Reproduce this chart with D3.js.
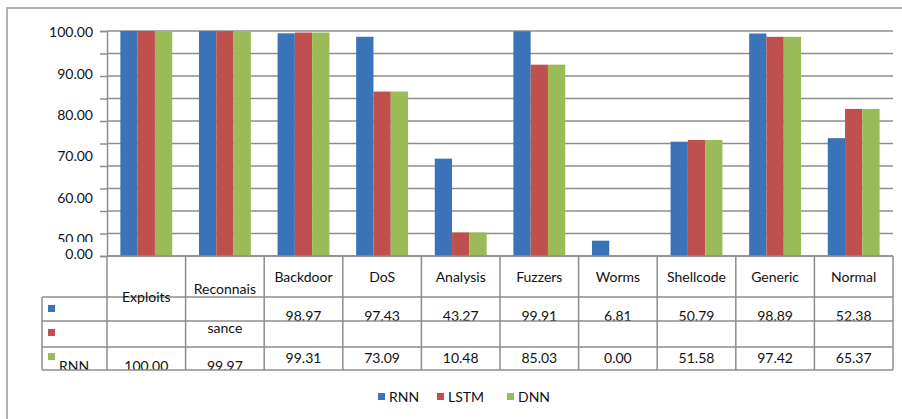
<!DOCTYPE html>
<html>
<head>
<meta charset="utf-8">
<script src="https://cdn.jsdelivr.net/npm/d3@7"></script>
<style>
  html, body { margin: 0; padding: 0; background: #fff; }
  svg { display: block; font-family: Lato, "Open Sans", sans-serif; }
</style>
</head>
<body>
<svg id="chart" width="902" height="419"></svg>
<script>
// ---- data ----
const categories = ["Exploits", "Reconnaissance", "Backdoor", "DoS", "Analysis", "Fuzzers", "Worms", "Shellcode", "Generic", "Normal"];
const seriesNames = ["RNN", "LSTM", "DNN"];
const rnn  = [100.00, 99.97, 98.97, 97.43, 43.27, 99.91, 6.81, 50.79, 98.89, 52.38];
const lstm = [100.00, 99.97, 99.31, 73.09, 10.48, 85.03, 0.00, 51.58, 97.42, 65.37];
const dnn  = [100.00, 99.97, 99.31, 73.09, 10.48, 85.03, 0.00, 51.58, 97.42, 65.37];
const gridValues = [0, 10, 20, 30, 40, 50, 60, 70, 80, 90, 100];
const axisLabels = [100, 90, 80, 70, 60, 50];
const zeroLabel = 0;

const colors = ["#3b73b9", "#c0504d", "#9bbb59"];
const lineColor = "#8e8e8e";

const svg = d3.select("#chart");
const plotLeft = 107, plotRight = 893, plotTop = 31, plotBase = 256;

const x = d3.scaleBand().domain(categories).range([plotLeft, plotRight]).paddingInner(0.34).paddingOuter(0.17);
const xs = d3.scaleBand().domain(seriesNames).range([0, x.bandwidth()]);
const y = d3.scaleLinear().domain([0, 100]).range([plotBase, plotTop]);
// misaligned label scale as in the reference picture
const yLab = d3.scaleLinear().domain([50, 100]).range([y(7.6), y(99.4)]);

const step = x.step();
const colEdge = i => plotLeft + i * step;

// clip paths
const defs = svg.append("defs");
defs.append("clipPath").attr("id", "clip50").append("rect").attr("x", 0).attr("y", 0).attr("width", 106).attr("height", 242);
defs.append("clipPath").attr("id", "clipRow1").append("rect").attr("x", 0).attr("y", 297).attr("width", 902).attr("height", 23.5);
defs.append("clipPath").attr("id", "clipRow3").append("rect").attr("x", 0).attr("y", 347).attr("width", 902).attr("height", 22.5);

// outer frame
svg.append("path").attr("d", "M7,419V8H902").attr("fill", "none").attr("stroke", "#9a9a9a").attr("stroke-width", 1.5);

// gridlines
svg.append("g").selectAll("line").data(gridValues).join("line")
  .attr("x1", plotLeft).attr("x2", plotRight)
  .attr("y1", d => y(d)).attr("y2", d => y(d))
  .attr("stroke", lineColor).attr("stroke-width", 1.5);

// bars
const seriesData = [rnn, lstm, dnn];
seriesData.forEach((vals, si) => {
  svg.append("g").selectAll("rect").data(vals).join("rect")
    .attr("x", (d, i) => x(categories[i]) + xs(seriesNames[si]))
    .attr("width", xs.bandwidth())
    .attr("y", d => y(d))
    .attr("height", d => y(0) - y(d))
    .attr("fill", colors[si]);
});

// y axis with ticks
const yAxis = d3.axisLeft(y).tickValues(gridValues).tickSize(7).tickFormat("");
const ag = svg.append("g").attr("transform", `translate(${plotLeft},0)`).call(yAxis);
ag.select(".domain").attr("stroke", lineColor).attr("stroke-width", 1.5);
ag.selectAll(".tick line").attr("stroke", lineColor).attr("stroke-width", 1.5);

// y labels
const labG = svg.append("g").attr("font-size", 14).attr("fill", "#111").attr("text-anchor", "end");
labG.selectAll("text").data(axisLabels).join("text")
  .attr("x", 93).attr("y", d => yLab(d)).attr("dy", "0.36em")
  .attr("clip-path", d => d === 50 ? "url(#clip50)" : null)
  .text(d => d3.format(".2f")(d));
labG.append("text").attr("x", 93).attr("y", y(0) - 2).attr("dy", "0.36em").text(d3.format(".2f")(zeroLabel));

// ---- data table ----
const rowLines = [297, 321, 347, 370];
const tg = svg.append("g").attr("stroke", lineColor).attr("stroke-width", 1.5);
tg.append("line").attr("x1", plotLeft).attr("x2", plotRight).attr("y1", plotBase).attr("y2", plotBase);
tg.selectAll("line.row").data(rowLines).join("line").attr("class", "row")
  .attr("x1", 42).attr("x2", plotRight).attr("y1", d => d).attr("y2", d => d);
tg.selectAll("line.col").data(d3.range(categories.length + 1)).join("line").attr("class", "col")
  .attr("x1", d => colEdge(d)).attr("x2", d => colEdge(d)).attr("y1", plotBase).attr("y2", 370);
tg.append("line").attr("x1", 42).attr("x2", 42).attr("y1", 297).attr("y2", 370);

const txt = svg.append("g").attr("font-size", 14).attr("fill", "#111").attr("text-anchor", "middle");
const cx = c => x(c) + x.bandwidth() / 2;

// category headers
categories.forEach((c, i) => {
  if (i === 0) {
    txt.append("text").attr("x", cx(c)).attr("y", 297).attr("dy", "0.36em").text(c);
  } else if (i === 1) {
    txt.append("text").attr("x", cx(c)).attr("y", 289).attr("dy", "0.36em").text(c.slice(0, 9));
    txt.append("text").attr("x", cx(c)).attr("y", 328).attr("dy", "0.36em").text(c.slice(9));
  } else {
    txt.append("text").attr("x", cx(c)).attr("y", 277).attr("dy", "0.36em").text(c);
  }
});

// row 1 values (RNN)
txt.append("g").attr("clip-path", "url(#clipRow1)").selectAll("text")
  .data(rnn.map((v, i) => ({ v, i })).filter(d => d.i >= 2)).join("text")
  .attr("x", d => cx(categories[d.i])).attr("y", 316).attr("dy", "0.36em")
  .text(d => d3.format(".2f")(d.v));

// row 3 values
txt.append("g").attr("clip-path", "url(#clipRow3)").selectAll("text")
  .data(dnn.map((v, i) => ({ v, i }))).join("text")
  .attr("x", d => cx(categories[d.i])).attr("y", d => d.i < 2 ? 366 : 358).attr("dy", "0.36em")
  .text(d => d3.format(".2f")(d.v));

// legend keys in table
const keyY = [305, 329, 353];
svg.append("g").selectAll("rect").data(seriesNames).join("rect")
  .attr("x", 48).attr("y", (d, i) => keyY[i]).attr("width", 7).attr("height", 7)
  .attr("fill", (d, i) => colors[i]);
svg.append("text").attr("clip-path", "url(#clipRow3)").attr("font-size", 14).attr("fill", "#111")
  .attr("x", 59).attr("y", 366).attr("dy", "0.36em").text(seriesNames[0]);

// bottom legend
const legX = [378, 437, 507];
const lg = svg.append("g").attr("font-size", 14).attr("fill", "#111");
seriesNames.forEach((s, i) => {
  lg.append("rect").attr("x", legX[i]).attr("y", 393).attr("width", 7).attr("height", 7).attr("fill", colors[i]);
  lg.append("text").attr("x", legX[i] + 11).attr("y", 396.5).attr("dy", "0.36em").text(s);
});
</script>
</body>
</html>
